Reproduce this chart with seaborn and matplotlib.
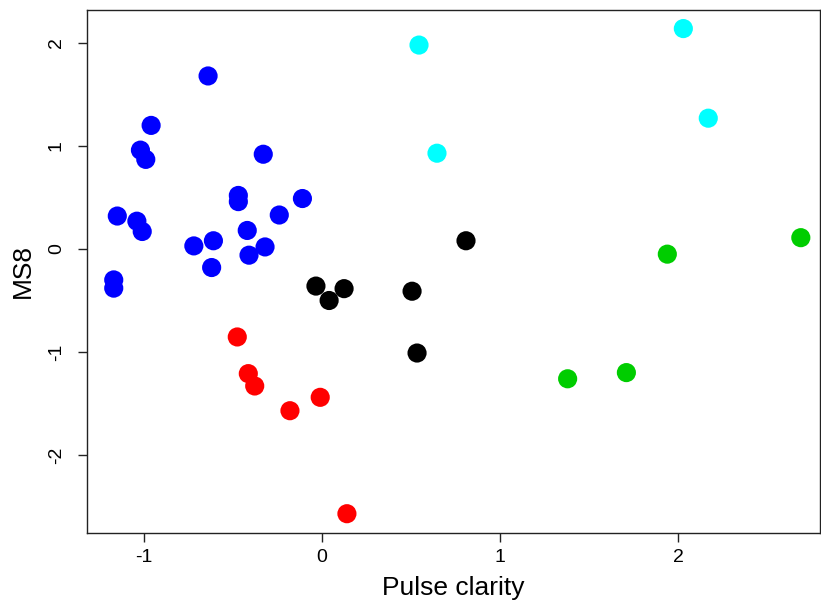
import matplotlib
matplotlib.use("Agg")
import matplotlib.pyplot as plt
import seaborn as sns
import pandas as pd

blue_x = [-0.64, -0.96, -1.02, -0.99, -1.15, -1.04, -1.01, -1.17, -1.17, -0.33,
          -0.47, -0.47, -0.11, -0.24, -0.42, -0.32, -0.72, -0.61, -0.62, -0.41]
blue_y = [1.68, 1.20, 0.96, 0.87, 0.32, 0.27, 0.17, -0.30, -0.38, 0.92,
          0.52, 0.46, 0.49, 0.33, 0.18, 0.02, 0.03, 0.08, -0.18, -0.06]
red_x = [-0.476, -0.414, -0.378, -0.18, -0.01, 0.14]
red_y = [-0.854, -1.21, -1.33, -1.57, -1.44, -2.57]
black_x = [-0.034, 0.04, 0.124, 0.506, 0.534, 0.809]
black_y = [-0.36, -0.50, -0.385, -0.41, -1.01, 0.08]
cyan_x = [0.545, 0.646, 2.03, 2.17]
cyan_y = [1.98, 0.93, 2.14, 1.27]
green_x = [2.69, 1.94, 1.71, 1.38]
green_y = [0.11, -0.05, -1.20, -1.26]

groups = ["blue", "red", "black", "cyan", "green"]
colors = ["#0000FF", "#FF0000", "#000000", "#00FFFF", "#00CD00"]

df = pd.concat([
    pd.DataFrame({"x": blue_x, "y": blue_y, "g": "blue"}),
    pd.DataFrame({"x": red_x, "y": red_y, "g": "red"}),
    pd.DataFrame({"x": black_x, "y": black_y, "g": "black"}),
    pd.DataFrame({"x": cyan_x, "y": cyan_y, "g": "cyan"}),
    pd.DataFrame({"x": green_x, "y": green_y, "g": "green"}),
], ignore_index=True)

sns.set_style("white")
plt.rcParams["font.family"] = ["Liberation Sans", "DejaVu Sans"]
plt.rcParams["text.color"] = "black"
plt.rcParams["axes.labelcolor"] = "black"

fig = plt.figure(figsize=(8.21, 6.03), dpi=100)
ax = fig.add_axes([87 / 821, (603 - 533) / 603, (820 - 87) / 821, (533 - 10) / 603])

sns.scatterplot(data=df, x="x", y="y", hue="g", hue_order=groups,
                palette=dict(zip(groups, colors)), s=190, linewidth=0,
                legend=False, ax=ax, zorder=3)

ax.set_xlim((87 - 322) / 178, (820 - 322) / 178)
ax.set_ylim((249 - 533) / 103, (249 - 10) / 103)
ax.set_xticks([-1, 0, 1, 2])
ax.set_yticks([-2, -1, 0, 1, 2])
ax.set_xticklabels(["-1", "0", "1", "2"])
ax.set_yticklabels(["-2", "-1", "0", "1", "2"], rotation=90, va="center")
ax.tick_params(axis="both", direction="out", length=6.5, width=1, color="#222222",
               labelsize=14, labelcolor="black", bottom=True, left=True)
ax.tick_params(axis="x", pad=5)
ax.tick_params(axis="y", pad=9.5)
for sp in ax.spines.values():
    sp.set_color("#222222")
    sp.set_linewidth(1)
ax.set_xlabel("Pulse clarity", fontsize=19, labelpad=7)
ax.set_ylabel("MS8", fontsize=19, labelpad=9)

fig.savefig("out.png", dpi=100)
